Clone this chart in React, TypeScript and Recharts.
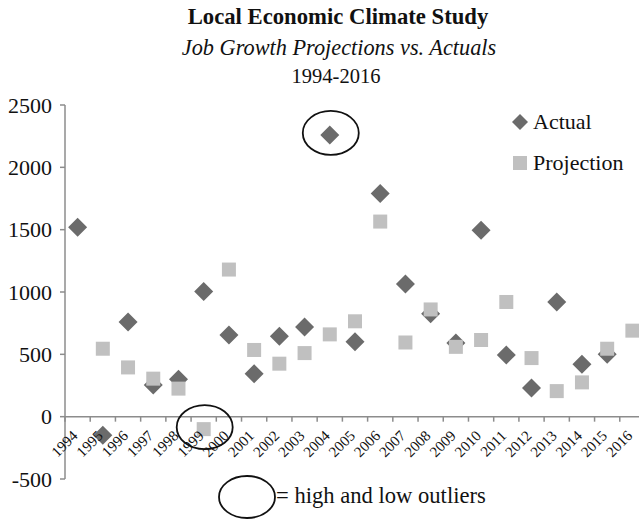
import React from "react";
import {
  ComposedChart,
  Scatter,
  XAxis,
  YAxis,
  ReferenceLine,
  ReferenceDot,
  Legend,
} from "recharts";

// job growth per year, actual vs projected
const years = [
  "1994", "1995", "1996", "1997", "1998", "1999", "2000", "2001",
  "2002", "2003", "2004", "2005", "2006", "2007", "2008", "2009",
  "2010", "2011", "2012", "2013", "2014", "2015", "2016",
];
const actual: (number | null)[] = [
  1520, -150, 760, 255, 300, 1005, 655, 345, 645, 720, 2260, 600,
  1790, 1065, 825, 590, 1495, 495, 230, 920, 420, 500, null,
];
const projection: (number | null)[] = [
  null, 545, 395, 305, 225, -100, 1180, 535, 425, 510, 660, 765,
  1565, 595, 860, 560, 615, 920, 470, 205, 275, 545, 690,
];
const yTicks = [-500, 0, 500, 1000, 1500, 2000, 2500];
// points that get circled
const outlierYears = ["2004", "1999"];
const outlierSeries = ["actual", "projection"];

const data = years.map((year, i) => ({
  year,
  actual: actual[i],
  projection: projection[i],
}));

const W = 660;
const H = 520;
const X_AXIS_H = 1;
const MARGIN = { top: 105, right: 15, bottom: 40, left: 0 };
const Y_AXIS_W = 65;
const Y_MIN = -500;
const Y_MAX = 2500;
const PLOT_W = W - MARGIN.left - MARGIN.right - Y_AXIS_W;
const PLOT_H = H - MARGIN.top - MARGIN.bottom - X_AXIS_H;
const BAND = PLOT_W / years.length;
const ZERO_OFFSET = (PLOT_H * (0 - Y_MIN)) / (Y_MAX - Y_MIN);

const FONT = '"Liberation Serif", "Times New Roman", serif';
const AXIS_GREY = "#8c8c8c";
const DARK = "#6b6b6b";
const LIGHT = "#c0c0c0";
const INK = "#111";

const diamondPoints = (cx: number, cy: number, r: number) =>
  `${cx},${cy - r} ${cx + r},${cy} ${cx},${cy + r} ${cx - r},${cy}`;

const hasPoint = (p: any, key: string) =>
  p.payload && p.payload[key] != null && Number.isFinite(p.cx) && Number.isFinite(p.cy);

const DiamondShape = (p: any) =>
  hasPoint(p, "actual") ? (
    <polygon points={diamondPoints(p.cx, p.cy, 9.5)} fill={DARK} />
  ) : (
    <g />
  );

const SquareShape = (p: any) =>
  hasPoint(p, "projection") ? (
    <rect x={p.cx - 7} y={p.cy - 7} width={14} height={14} fill={LIGHT} />
  ) : (
    <g />
  );

const OutlierRing = (p: any) => (
  <ellipse
    cx={p.cx + 1}
    cy={p.cy - 2}
    rx={28}
    ry={22}
    fill="none"
    stroke={INK}
    strokeWidth={1.8}
  />
);

// x labels sit under the zero line rather than the bottom of the plot
const YearTick = (props: any) => {
  const { x, y, payload } = props;
  const index = props.index ?? payload.index;
  const y0 = y - ZERO_OFFSET;
  const left = x - BAND / 2;
  return (
    <g>
      <line x1={left} x2={left} y1={y0} y2={y0 + 5} stroke={AXIS_GREY} strokeWidth={1.5} />
      {index === years.length - 1 && (
        <line
          x1={x + BAND / 2}
          x2={x + BAND / 2}
          y1={y0}
          y2={y0 + 5}
          stroke={AXIS_GREY}
          strokeWidth={1.5}
        />
      )}
      <text
        transform={`translate(${x + 1},${y0 + 20}) rotate(-45)`}
        textAnchor="end"
        fontSize={15}
        fontFamily={FONT}
        fill={INK}
      >
        {payload.value}
      </text>
    </g>
  );
};

const LegendContent = (props: any) => (
  <div style={{ fontFamily: FONT, fontSize: 22, color: INK }}>
    {(props.payload || []).map((entry: any) => (
      <div
        key={entry.value}
        style={{ display: "flex", alignItems: "center", height: 41 }}
      >
        <svg width={22} height={22}>
          {entry.type === "diamond" ? (
            <polygon points={diamondPoints(11, 11, 8)} fill={DARK} />
          ) : (
            <rect x={4} y={4} width={14} height={14} fill={LIGHT} />
          )}
        </svg>
        <span style={{ marginLeft: 2 }}>{entry.value}</span>
      </div>
    ))}
  </div>
);

export default function App() {
  return (
    <div
      style={{
        position: "absolute",
        left: 0,
        top: 0,
        width: 639,
        height: 520,
        overflow: "hidden",
        background: "#fff",
      }}
    >
      <ComposedChart width={W} height={H} data={data} margin={MARGIN}>
        <XAxis
          dataKey="year"
          type="category"
          height={X_AXIS_H}
          padding={{ left: BAND / 2, right: BAND / 2 }}
          axisLine={false}
          tickLine={false}
          tickSize={0}
          tickMargin={0}
          interval={0}
          tick={YearTick}
        />
        <YAxis
          type="number"
          domain={[Y_MIN, Y_MAX]}
          ticks={yTicks}
          width={Y_AXIS_W}
          tickSize={5}
          tickMargin={8}
          interval={0}
          allowDataOverflow
          axisLine={{ stroke: AXIS_GREY, strokeWidth: 1.5 }}
          tickLine={{ stroke: AXIS_GREY, strokeWidth: 1.5 }}
          tick={{ fontSize: 22, fontFamily: FONT, fill: INK }}
        />
        <ReferenceLine y={0} stroke={AXIS_GREY} strokeWidth={1.5} ifOverflow="visible" />
        <Legend
          layout="vertical"
          align="center"
          verticalAlign="middle"
          wrapperStyle={{ top: 101, left: 509, width: 130 }}
          content={LegendContent}
        />
        <Scatter
          name="Actual"
          dataKey="actual"
          fill={DARK}
          legendType="diamond"
          shape={DiamondShape}
          isAnimationActive={false}
        />
        <Scatter
          name="Projection"
          dataKey="projection"
          fill={LIGHT}
          legendType="square"
          shape={SquareShape}
          isAnimationActive={false}
        />
        {outlierYears.map((yr, i) => {
          const row = data.find((d) => d.year === yr) as any;
          return (
            <ReferenceDot
              key={yr}
              x={yr}
              y={row[outlierSeries[i]]}
              r={0}
              shape={OutlierRing}
            />
          );
        })}
      </ComposedChart>
      <svg
        width={639}
        height={520}
        style={{ position: "absolute", left: 0, top: 0, pointerEvents: "none" }}
        fontFamily={FONT}
        fill={INK}
      >
        <text x={338} y={24} textAnchor="middle" fontSize={22.7} fontWeight="bold">
          Local Economic Climate Study
        </text>
        <text x={339} y={55} textAnchor="middle" fontSize={22.3} fontStyle="italic">
          Job Growth Projections vs. Actuals
        </text>
        <text x={336} y={83} textAnchor="middle" fontSize={20.5}>
          1994-2016
        </text>
        <ellipse cx={247} cy={497} rx={28} ry={21} fill="none" stroke={INK} strokeWidth={1.8} />
        <text x={276} y={503} fontSize={22.6}>
          = high and low outliers
        </text>
      </svg>
    </div>
  );
}
